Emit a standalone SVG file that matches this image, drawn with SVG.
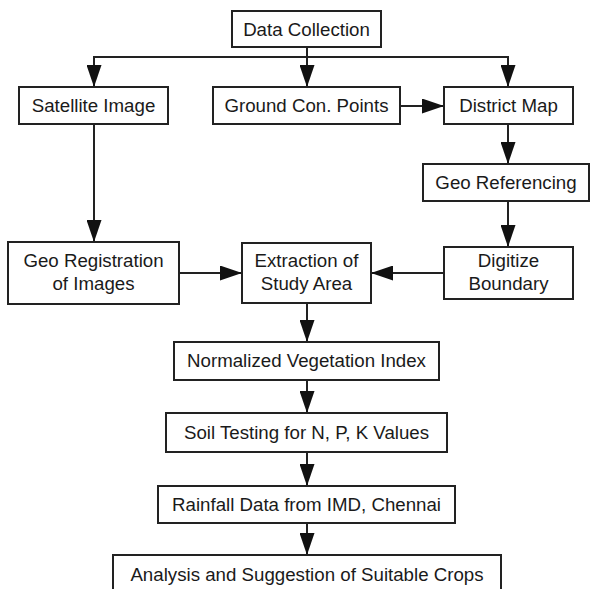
<svg xmlns="http://www.w3.org/2000/svg" width="592" height="589" viewBox="0 0 592 589">
<style>
.box{fill:#fff;stroke:#222;stroke-width:2}
.t{font-family:"Liberation Sans",Arial,sans-serif;font-size:18.7px;fill:#1a1a1a;text-anchor:middle}
.c{fill:none;stroke:#222;stroke-width:2}
</style>
<defs>
<marker id="ah" markerUnits="userSpaceOnUse" markerWidth="22" markerHeight="15" refX="22" refY="7.5" orient="auto">
<path d="M0,0 L22,7.5 L0,15 z" fill="#111"/>
</marker>
</defs>
<rect width="592" height="589" fill="#fff"/>
<g id="connectors">
<path class="c" d="M307,47 V87" marker-end="url(#ah)"/>
<path class="c" d="M307,57 H94 V87" marker-end="url(#ah)"/>
<path class="c" d="M307,57 H508 V87" marker-end="url(#ah)"/>
<path class="c" d="M400,106 H444" marker-end="url(#ah)"/>
<path class="c" d="M508,124 V164" marker-end="url(#ah)"/>
<path class="c" d="M508,201 V247" marker-end="url(#ah)"/>
<path class="c" d="M444,273 H371" marker-end="url(#ah)"/>
<path class="c" d="M94,124 V242" marker-end="url(#ah)"/>
<path class="c" d="M179,273 H242" marker-end="url(#ah)"/>
<path class="c" d="M307,303 V342" marker-end="url(#ah)"/>
<path class="c" d="M307,380 V413" marker-end="url(#ah)"/>
<path class="c" d="M307,452 V486" marker-end="url(#ah)"/>
<path class="c" d="M307,523 V555" marker-end="url(#ah)"/>
</g>
<g id="data-collection"><rect class="box" x="232" y="11" width="149" height="36"/><text class="t" x="306.5" y="35.5">Data Collection</text></g>
<g id="satellite-image"><rect class="box" x="19" y="87" width="149" height="37"/><text class="t" x="93.5" y="112">Satellite Image</text></g>
<g id="ground-con-points"><rect class="box" x="213" y="87" width="187" height="37"/><text class="t" x="306.5" y="112">Ground Con. Points</text></g>
<g id="district-map"><rect class="box" x="444" y="87" width="129" height="37"/><text class="t" x="508.5" y="112">District Map</text></g>
<g id="geo-referencing"><rect class="box" x="423" y="164" width="166" height="37"/><text class="t" x="506" y="189">Geo Referencing</text></g>
<g id="geo-registration"><rect class="box" x="8" y="242" width="171" height="62"/><text class="t" x="93.5" y="267">Geo Registration</text><text class="t" x="93.5" y="290">of Images</text></g>
<g id="extraction"><rect class="box" x="242" y="243" width="129" height="60"/><text class="t" x="306.5" y="267">Extraction of</text><text class="t" x="306.5" y="290">Study Area</text></g>
<g id="digitize-boundary"><rect class="box" x="444" y="247" width="129" height="52"/><text class="t" x="508.5" y="267">Digitize</text><text class="t" x="508.5" y="290">Boundary</text></g>
<g id="normalized"><rect class="box" x="174" y="342" width="265" height="38"/><text class="t" x="306.5" y="367">Normalized Vegetation Index</text></g>
<g id="soil-testing"><rect class="box" x="166" y="413" width="281" height="39"/><text class="t" x="306.5" y="439">Soil Testing for N, P, K Values</text></g>
<g id="rainfall"><rect class="box" x="158" y="486" width="297" height="37"/><text class="t" x="306.5" y="511">Rainfall Data from IMD, Chennai</text></g>
<g id="analysis"><rect class="box" x="113" y="555" width="388" height="44"/><text class="t" x="307" y="580.5">Analysis and Suggestion of Suitable Crops</text></g>
</svg>
